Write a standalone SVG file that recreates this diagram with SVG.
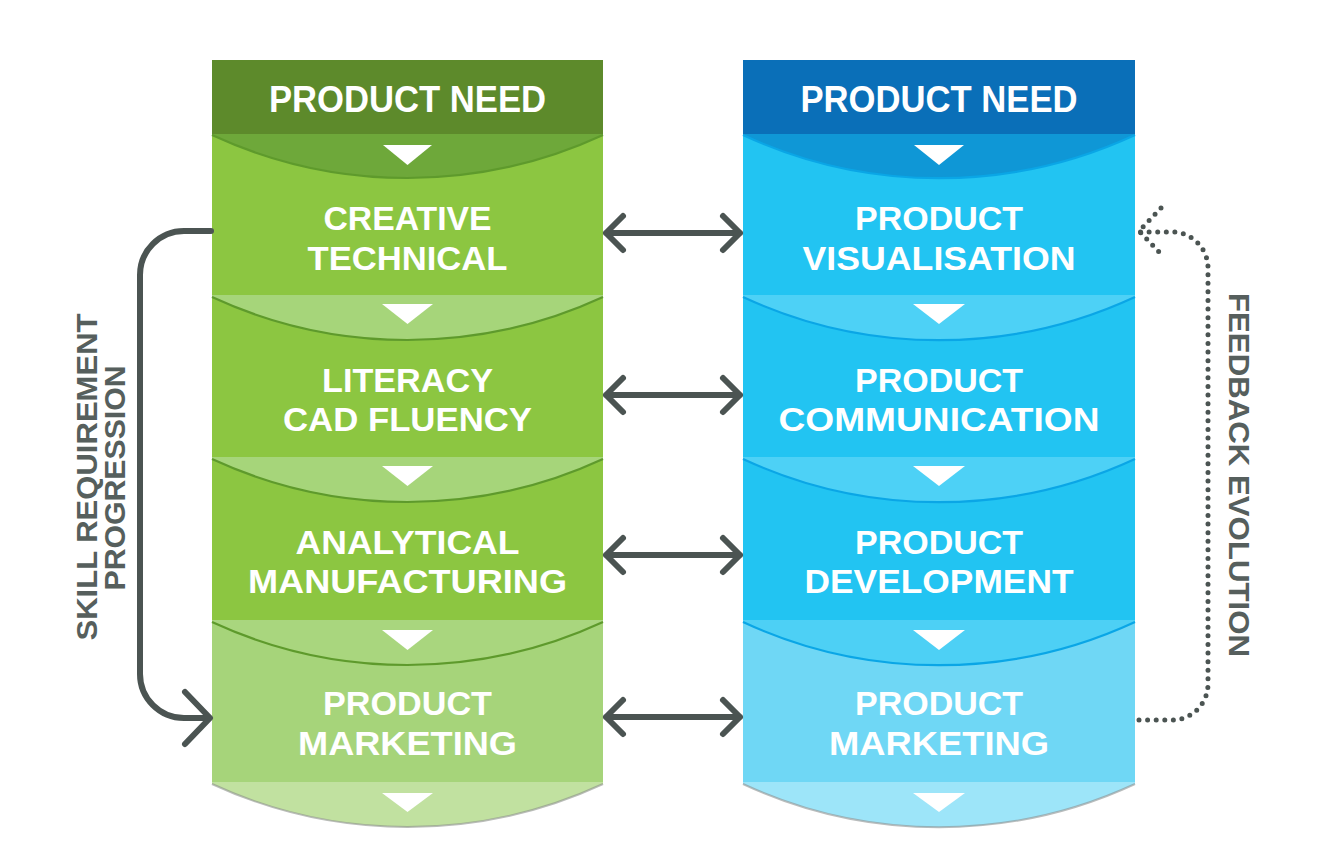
<svg xmlns="http://www.w3.org/2000/svg" width="1337" height="863" viewBox="0 0 1337 863">
<defs>
<style>
.t{font-family:"Liberation Sans",Arial,sans-serif;font-weight:bold;fill:#ffffff;text-anchor:middle}
.h{font-size:36px}
.b{font-size:34px}
.lbl{font-family:"Liberation Sans",Arial,sans-serif;font-weight:bold;fill:#565f5d;font-size:29px;text-anchor:middle}
.tri{fill:#ffffff}
.arr{fill:none;stroke:#4b5452;stroke-width:6;stroke-linecap:round;stroke-linejoin:round}
.dot{fill:none;stroke:#4b5452;stroke-width:5;stroke-linecap:round;stroke-dasharray:0 8.6}
.gline{fill:none;stroke:#5e9a2c;stroke-width:2.2}
.bline{fill:none;stroke:#0aa6e6;stroke-width:2.2}
</style>
</defs>
<rect width="1337" height="863" fill="#ffffff"/>

<!-- LEFT COLUMN -->
<g id="left-header">
<rect x="212" y="60" width="391" height="74" fill="#5d8a2b"/>
<text class="t h" x="407.5" y="112" textLength="277" lengthAdjust="spacingAndGlyphs">PRODUCT NEED</text>
</g>
<g id="left-creative-technical">
<rect x="212" y="134" width="391" height="161" fill="#8cc641"/>
<path d="M212,134 H603 V135 A466,466 0 0 1 212,135 Z" fill="#6ea83a"/>
<path class="gline" d="M603,135 A466,466 0 0 1 212,135" stroke="#4e7f22"/>
<path class="tri" d="M383,145 H432 L407.5,165 Z"/>
<text class="t b" x="407.5" y="230" textLength="168" lengthAdjust="spacingAndGlyphs">CREATIVE</text>
<text class="t b" x="407.5" y="270" textLength="200" lengthAdjust="spacingAndGlyphs">TECHNICAL</text>
</g>
<g id="left-literacy-cad">
<rect x="212" y="295" width="391" height="162" fill="#8cc641"/>
<path d="M212,295 H603 V297 A466,466 0 0 1 212,297 Z" fill="#a6d57a"/>
<path class="gline" d="M603,297 A466,466 0 0 1 212,297"/>
<path class="tri" d="M382,304 H433 L407.5,324 Z"/>
<text class="t b" x="407.5" y="392" textLength="171" lengthAdjust="spacingAndGlyphs">LITERACY</text>
<text class="t b" x="407.5" y="431" textLength="249" lengthAdjust="spacingAndGlyphs">CAD FLUENCY</text>
</g>
<g id="left-analytical-manufacturing">
<rect x="212" y="457" width="391" height="163" fill="#8cc641"/>
<path d="M212,457 H603 V459 A466,466 0 0 1 212,459 Z" fill="#a6d57a"/>
<path class="gline" d="M603,459 A466,466 0 0 1 212,459"/>
<path class="tri" d="M382,466 H433 L407.5,486 Z"/>
<text class="t b" x="407.5" y="554" textLength="224" lengthAdjust="spacingAndGlyphs">ANALYTICAL</text>
<text class="t b" x="407.5" y="593" textLength="319" lengthAdjust="spacingAndGlyphs">MANUFACTURING</text>
</g>
<g id="left-product-marketing">
<rect x="212" y="620" width="391" height="162" fill="#a6d47a"/>
<path d="M212,620 H603 V622 A466,466 0 0 1 212,622 Z" fill="#a9d67e"/>
<path class="gline" d="M603,622 A466,466 0 0 1 212,622" stroke="#6cab37"/>
<path class="tri" d="M382,630 H433 L407.5,650 Z"/>
<text class="t b" x="407.5" y="715" textLength="169" lengthAdjust="spacingAndGlyphs">PRODUCT</text>
<text class="t b" x="407.5" y="755" textLength="219" lengthAdjust="spacingAndGlyphs">MARKETING</text>
</g>
<g id="left-bottom">
<path d="M212,782 H603 V784 A466,466 0 0 1 212,784 Z" fill="#c1e1a0"/>
<path d="M603,784 A466,466 0 0 1 212,784" fill="none" stroke="#8a8f88" stroke-width="2" stroke-opacity="0.6"/>
<path class="tri" d="M382,793 H433 L407.5,812 Z"/>
</g>

<!-- RIGHT COLUMN -->
<g id="right-header">
<rect x="743" y="60" width="392" height="74" fill="#0a6fb8"/>
<text class="t h" x="939" y="112" textLength="277" lengthAdjust="spacingAndGlyphs">PRODUCT NEED</text>
</g>
<g id="right-product-visualisation">
<rect x="743" y="134" width="392" height="161" fill="#22c4f2"/>
<path d="M743,134 H1135 V135 A466,466 0 0 1 743,135 Z" fill="#0f97d6"/>
<path class="bline" d="M1135,135 A466,466 0 0 1 743,135" stroke="#0a78c0"/>
<path class="tri" d="M914,145 H964 L939,165 Z"/>
<text class="t b" x="939" y="230" textLength="168" lengthAdjust="spacingAndGlyphs">PRODUCT</text>
<text class="t b" x="939" y="270" textLength="273" lengthAdjust="spacingAndGlyphs">VISUALISATION</text>
</g>
<g id="right-product-communication">
<rect x="743" y="295" width="392" height="162" fill="#22c4f2"/>
<path d="M743,295 H1135 V297 A466,466 0 0 1 743,297 Z" fill="#4dd1f6"/>
<path class="bline" d="M1135,297 A466,466 0 0 1 743,297"/>
<path class="tri" d="M913,304 H965 L939,324 Z"/>
<text class="t b" x="939" y="392" textLength="168" lengthAdjust="spacingAndGlyphs">PRODUCT</text>
<text class="t b" x="939" y="431" textLength="321" lengthAdjust="spacingAndGlyphs">COMMUNICATION</text>
</g>
<g id="right-product-development">
<rect x="743" y="457" width="392" height="163" fill="#22c4f2"/>
<path d="M743,457 H1135 V459 A466,466 0 0 1 743,459 Z" fill="#4dd1f6"/>
<path class="bline" d="M1135,459 A466,466 0 0 1 743,459"/>
<path class="tri" d="M913,466 H965 L939,486 Z"/>
<text class="t b" x="939" y="554" textLength="168" lengthAdjust="spacingAndGlyphs">PRODUCT</text>
<text class="t b" x="939" y="593" textLength="269" lengthAdjust="spacingAndGlyphs">DEVELOPMENT</text>
</g>
<g id="right-product-marketing">
<rect x="743" y="620" width="392" height="162" fill="#6fd7f5"/>
<path d="M743,620 H1135 V622 A466,466 0 0 1 743,622 Z" fill="#4dd0f5"/>
<path class="bline" d="M1135,622 A466,466 0 0 1 743,622" stroke="#12a9e8"/>
<path class="tri" d="M913,630 H965 L939,650 Z"/>
<text class="t b" x="939" y="715" textLength="168" lengthAdjust="spacingAndGlyphs">PRODUCT</text>
<text class="t b" x="939" y="755" textLength="220" lengthAdjust="spacingAndGlyphs">MARKETING</text>
</g>
<g id="right-bottom">
<path d="M743,782 H1135 V784 A466,466 0 0 1 743,784 Z" fill="#9de5f9"/>
<path d="M1135,784 A466,466 0 0 1 743,784" fill="none" stroke="#8a8f8f" stroke-width="2" stroke-opacity="0.6"/>
<path class="tri" d="M913,793 H965 L939,812 Z"/>
</g>

<!-- SIDE LABELS -->
<g id="label-skill">
<text class="lbl" transform="translate(97,477) rotate(-90)" textLength="327" lengthAdjust="spacingAndGlyphs">SKILL REQUIREMENT</text>
<text class="lbl" transform="translate(125,478) rotate(-90)" textLength="225" lengthAdjust="spacingAndGlyphs">PROGRESSION</text>
</g>
<g id="label-feedback">
<text class="lbl" transform="translate(1229,475) rotate(90)" textLength="364" lengthAdjust="spacingAndGlyphs">FEEDBACK EVOLUTION</text>
</g>

<!-- CONNECTORS -->
<g id="connectors">
<path class="arr" d="M606,233 H740 M623,216 L606,233 L623,250 M723,216 L740,233 L723,250"/>
<path class="arr" d="M606,395 H740 M623,378 L606,395 L623,412 M723,378 L740,395 L723,412"/>
<path class="arr" d="M606,555 H740 M623,538 L606,555 L623,572 M723,538 L740,555 L723,572"/>
<path class="arr" d="M606,717 H740 M623,700 L606,717 L623,734 M723,700 L740,717 L723,734"/>
<path class="arr" d="M211,231 H184 A44,44 0 0 0 140,275 V674 A44,44 0 0 0 184,718 H208"/>
<path class="arr" d="M185,692 L210,718 L185,744"/>
<path class="dot" d="M1139,720 H1172 A36,36 0 0 0 1208,684 V268 A36,36 0 0 0 1172,232 H1140"/>
<path class="dot" d="M1161,208 L1139,231 L1161,254"/>
</g>
</svg>
